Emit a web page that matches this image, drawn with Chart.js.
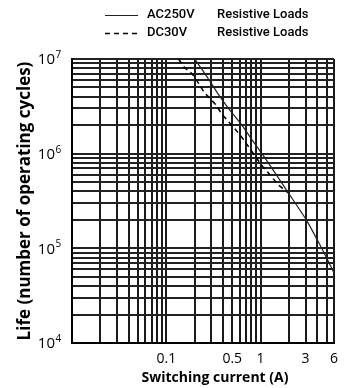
<!DOCTYPE html>
<html>
<head>
<meta charset="utf-8">
<title>Life vs switching current</title>
<script src="https://cdn.jsdelivr.net/npm/chart.js@4.4.1/dist/chart.umd.min.js"></script>
<style>
  html, body { margin: 0; padding: 0; background: #fff; }
  #wrap { width: 346px; height: 388px; }
</style>
</head>
<body>
<div id="wrap"><canvas id="lifeChart" width="346" height="388"></canvas></div>
<script>
// AC250V resistive loads
const acCurrent = [0.2, 0.28, 0.36, 0.46, 0.63, 0.84, 1.13, 1.97, 3.05, 4.25, 5.58, 6];
const acLife = [1e7, 6.15e6, 4.17e6, 2.97e6, 2.01e6, 1.33e6, 8.8e5, 3.85e5, 2.0e5, 1.09e5, 6.4e4, 5.5e4];

// DC30V resistive loads, joins the AC curve near 2 A
const dcCurrent = [0.135, 0.155, 0.188, 0.222, 0.251, 0.336, 0.388, 0.46, 0.546, 0.662, 1.02, 1.26, 1.55, 1.97];
const dcLife = [1e7, 8.2e6, 6.95e6, 5.45e6, 4.49e6, 3.27e6, 2.62e6, 2.16e6, 1.78e6, 1.4e6, 7.6e5, 5.96e5, 4.67e5, 3.85e5];

// grid lines and labels
const xGrid = [0.01, 0.02, 0.03, 0.04, 0.05, 0.06, 0.07, 0.08, 0.09,
  0.1, 0.2, 0.3, 0.4, 0.5, 0.6, 0.7, 0.8, 0.9,
  1, 2, 3, 4, 5, 6];
const xLabels = [0.1, 0.5, 1, 3, 6];
const yGrid = [1e4, 2e4, 3e4, 4e4, 5e4, 6e4, 7e4, 8e4, 9e4,
  1e5, 2e5, 3e5, 4e5, 5e5, 6e5, 7e5, 8e5, 9e5,
  1e6, 2e6, 3e6, 4e6, 5e6, 6e6, 7e6, 8e6, 9e6, 1e7];
const yLabelExp = [4, 5, 6, 7];

const legendNames = ["AC250V", "DC30V"];
const legendLoad = "Resistive Loads";

function toPoints(xs, ys) {
  return xs.map((x, i) => ({ x: x, y: ys[i] }));
}

// y tick labels with superscripts, x title and the legend
const decorations = {
  id: 'decorations',
  afterDraw(chart) {
    const ctx = chart.ctx;
    const yScale = chart.scales.y;
    ctx.save();
    ctx.fillStyle = '#000';
    ctx.textBaseline = 'middle';

    yLabelExp.forEach(e => {
      const py = yScale.getPixelForValue(Math.pow(10, e));
      ctx.font = '15px "Open Sans"';
      ctx.textAlign = 'right';
      ctx.fillText('10', 55, py + 1);
      ctx.font = '10px "Open Sans"';
      ctx.textAlign = 'left';
      ctx.fillText(String(e), 55.5, py - 4);
    });

    ctx.font = 'bold 14px "Open Sans"';
    ctx.textAlign = 'center';
    ctx.fillText('Switching current (A)', 215, 378);

    chart.data.datasets.forEach((ds, i) => {
      const ly = 15 + i * 18;
      ctx.beginPath();
      ctx.strokeStyle = ds.borderColor;
      ctx.lineWidth = ds.borderWidth;
      ctx.setLineDash(ds.borderDash || []);
      ctx.moveTo(105, ly + 0.5);
      ctx.lineTo(138, ly + 0.5);
      ctx.stroke();
      ctx.setLineDash([]);
      ctx.font = '500 13px Roboto';
      ctx.textAlign = 'left';
      ctx.fillText(legendNames[i], 147, ly);
      ctx.fillText(legendLoad, 217, ly);
    });
    ctx.restore();
  }
};

const ctx = document.getElementById('lifeChart').getContext('2d');

new Chart(ctx, {
  type: 'line',
  data: {
    datasets: [{
      label: 'AC250V Resistive Loads',
      data: toPoints(acCurrent, acLife),
      borderColor: '#222',
      borderWidth: 1.2,
      pointRadius: 0,
      tension: 0.2,
      fill: false
    }, {
      label: 'DC30V Resistive Loads',
      data: toPoints(dcCurrent, dcLife),
      borderColor: '#000',
      borderWidth: 1.5,
      borderDash: [5, 4],
      pointRadius: 0,
      tension: 0.2,
      fill: false
    }]
  },
  options: {
    responsive: false,
    animation: false,
    devicePixelRatio: 1,
    layout: { padding: { top: 59, right: 10, bottom: 0, left: 0 } },
    plugins: {
      legend: { display: false },
      tooltip: { enabled: false }
    },
    scales: {
      x: {
        type: 'logarithmic',
        min: 0.01,
        max: 6,
        afterBuildTicks: (scale) => { scale.ticks = xGrid.map(v => ({ value: v })); },
        afterFit: (scale) => { scale.height = 45; },
        grid: { color: '#1a1a1a', lineWidth: 2, drawTicks: false },
        border: { display: true, color: '#000', width: 2 },
        ticks: {
          autoSkip: false,
          maxRotation: 0,
          padding: 8,
          color: '#000',
          font: { family: 'Open Sans', size: 14 },
          callback: (value) => xLabels.includes(value) ? String(value) : ''
        }
      },
      y: {
        type: 'logarithmic',
        min: 1e4,
        max: 1e7,
        afterBuildTicks: (scale) => { scale.ticks = yGrid.map(v => ({ value: v })); },
        afterFit: (scale) => { scale.width = 72; },
        grid: { color: '#222', lineWidth: 2, drawTicks: false },
        border: { display: true, color: '#000', width: 2 },
        ticks: { display: false },
        title: {
          display: true,
          text: 'Life (number of operating cycles)',
          color: '#000',
          font: { family: 'Open Sans', size: 17, weight: 'bold' },
          padding: { top: 15, bottom: 0 }
        }
      }
    }
  },
  plugins: [decorations]
});
</script>
</body>
</html>
